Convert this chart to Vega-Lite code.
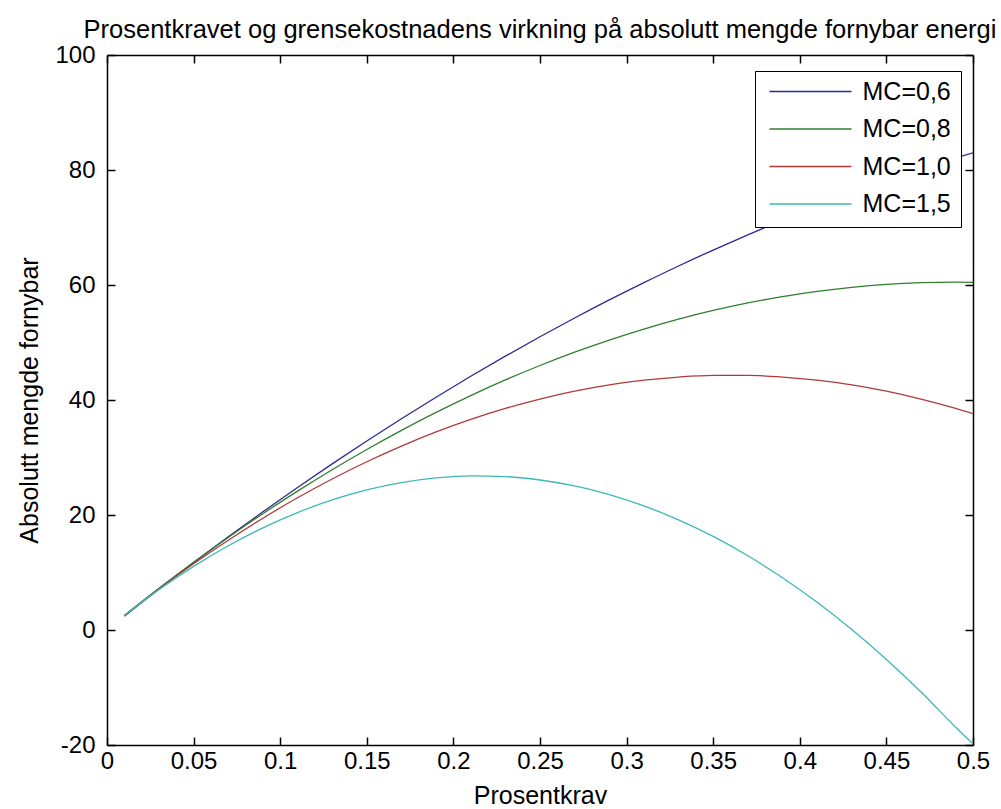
{
  "$schema": "https://vega.github.io/schema/vega-lite/v6.json",
  "width": 866,
  "height": 690,
  "autosize": {"type": "none"},
  "padding": {"left": 107, "top": 55, "right": 28, "bottom": 64},
  "background": "white",
  "config": {
    "view": {"stroke": null},
    "font": "Liberation Sans",
    "axis": {"labelFont": "Liberation Sans", "titleFont": "Liberation Sans", "labelColor": "black", "titleColor": "black", "domainColor": "black", "tickColor": "black", "domainWidth": 1.5, "tickWidth": 1.5, "grid": false}
  },
  "title": {"text": "Prosentkravet og grensekostnadens virkning på absolutt mengde fornybar energi", "fontSize": 25.5, "font": "Liberation Sans", "fontWeight": "normal", "color": "black", "anchor": "middle", "offset": 0},
  "data": {"values": [
    {"x":0.01,"y":2.40,"s":"MC=0,6"},{"x":0.03,"y":7.12,"s":"MC=0,6"},{"x":0.05,"y":11.72,"s":"MC=0,6"},{"x":0.07,"y":16.20,"s":"MC=0,6"},{"x":0.09,"y":20.55,"s":"MC=0,6"},{"x":0.11,"y":24.78,"s":"MC=0,6"},{"x":0.13,"y":28.89,"s":"MC=0,6"},{"x":0.15,"y":32.88,"s":"MC=0,6"},{"x":0.17,"y":36.75,"s":"MC=0,6"},{"x":0.19,"y":40.49,"s":"MC=0,6"},{"x":0.21,"y":44.12,"s":"MC=0,6"},{"x":0.23,"y":47.62,"s":"MC=0,6"},{"x":0.25,"y":51.00,"s":"MC=0,6"},{"x":0.27,"y":54.26,"s":"MC=0,6"},{"x":0.29,"y":57.40,"s":"MC=0,6"},{"x":0.31,"y":60.41,"s":"MC=0,6"},{"x":0.33,"y":63.31,"s":"MC=0,6"},{"x":0.35,"y":66.08,"s":"MC=0,6"},{"x":0.37,"y":68.73,"s":"MC=0,6"},{"x":0.39,"y":71.26,"s":"MC=0,6"},{"x":0.41,"y":73.67,"s":"MC=0,6"},{"x":0.43,"y":75.96,"s":"MC=0,6"},{"x":0.45,"y":78.12,"s":"MC=0,6"},{"x":0.47,"y":80.16,"s":"MC=0,6"},{"x":0.49,"y":82.09,"s":"MC=0,6"},{"x":0.50,"y":83.00,"s":"MC=0,6"},
    {"x":0.01,"y":2.51,"s":"MC=0,8"},{"x":0.03,"y":7.24,"s":"MC=0,8"},{"x":0.05,"y":11.77,"s":"MC=0,8"},{"x":0.07,"y":16.10,"s":"MC=0,8"},{"x":0.09,"y":20.23,"s":"MC=0,8"},{"x":0.11,"y":24.15,"s":"MC=0,8"},{"x":0.13,"y":27.88,"s":"MC=0,8"},{"x":0.15,"y":31.40,"s":"MC=0,8"},{"x":0.17,"y":34.73,"s":"MC=0,8"},{"x":0.19,"y":37.85,"s":"MC=0,8"},{"x":0.21,"y":40.77,"s":"MC=0,8"},{"x":0.23,"y":43.49,"s":"MC=0,8"},{"x":0.25,"y":46.00,"s":"MC=0,8"},{"x":0.27,"y":48.32,"s":"MC=0,8"},{"x":0.29,"y":50.43,"s":"MC=0,8"},{"x":0.31,"y":52.34,"s":"MC=0,8"},{"x":0.33,"y":54.06,"s":"MC=0,8"},{"x":0.35,"y":55.57,"s":"MC=0,8"},{"x":0.37,"y":56.88,"s":"MC=0,8"},{"x":0.39,"y":57.98,"s":"MC=0,8"},{"x":0.41,"y":58.89,"s":"MC=0,8"},{"x":0.43,"y":59.59,"s":"MC=0,8"},{"x":0.45,"y":60.10,"s":"MC=0,8"},{"x":0.47,"y":60.40,"s":"MC=0,8"},{"x":0.49,"y":60.50,"s":"MC=0,8"},{"x":0.50,"y":60.47,"s":"MC=0,8"},
    {"x":0.01,"y":2.53,"s":"MC=1,0"},{"x":0.03,"y":7.17,"s":"MC=1,0"},{"x":0.05,"y":11.53,"s":"MC=1,0"},{"x":0.07,"y":15.62,"s":"MC=1,0"},{"x":0.09,"y":19.44,"s":"MC=1,0"},{"x":0.11,"y":22.99,"s":"MC=1,0"},{"x":0.13,"y":26.26,"s":"MC=1,0"},{"x":0.15,"y":29.26,"s":"MC=1,0"},{"x":0.17,"y":31.99,"s":"MC=1,0"},{"x":0.19,"y":34.45,"s":"MC=1,0"},{"x":0.21,"y":36.63,"s":"MC=1,0"},{"x":0.23,"y":38.54,"s":"MC=1,0"},{"x":0.25,"y":40.17,"s":"MC=1,0"},{"x":0.27,"y":41.54,"s":"MC=1,0"},{"x":0.29,"y":42.63,"s":"MC=1,0"},{"x":0.31,"y":43.45,"s":"MC=1,0"},{"x":0.33,"y":43.99,"s":"MC=1,0"},{"x":0.35,"y":44.27,"s":"MC=1,0"},{"x":0.37,"y":44.27,"s":"MC=1,0"},{"x":0.39,"y":43.99,"s":"MC=1,0"},{"x":0.41,"y":43.45,"s":"MC=1,0"},{"x":0.43,"y":42.63,"s":"MC=1,0"},{"x":0.45,"y":41.54,"s":"MC=1,0"},{"x":0.47,"y":40.17,"s":"MC=1,0"},{"x":0.49,"y":38.54,"s":"MC=1,0"},{"x":0.50,"y":37.62,"s":"MC=1,0"},
    {"x":0.01,"y":2.51,"s":"MC=1,5"},{"x":0.03,"y":7.02,"s":"MC=1,5"},{"x":0.05,"y":11.06,"s":"MC=1,5"},{"x":0.07,"y":14.65,"s":"MC=1,5"},{"x":0.09,"y":17.77,"s":"MC=1,5"},{"x":0.11,"y":20.43,"s":"MC=1,5"},{"x":0.13,"y":22.62,"s":"MC=1,5"},{"x":0.15,"y":24.36,"s":"MC=1,5"},{"x":0.17,"y":25.63,"s":"MC=1,5"},{"x":0.19,"y":26.44,"s":"MC=1,5"},{"x":0.21,"y":26.79,"s":"MC=1,5"},{"x":0.23,"y":26.67,"s":"MC=1,5"},{"x":0.25,"y":26.09,"s":"MC=1,5"},{"x":0.27,"y":25.05,"s":"MC=1,5"},{"x":0.29,"y":23.55,"s":"MC=1,5"},{"x":0.31,"y":21.58,"s":"MC=1,5"},{"x":0.33,"y":19.16,"s":"MC=1,5"},{"x":0.35,"y":16.27,"s":"MC=1,5"},{"x":0.37,"y":12.91,"s":"MC=1,5"},{"x":0.39,"y":9.10,"s":"MC=1,5"},{"x":0.41,"y":4.82,"s":"MC=1,5"},{"x":0.43,"y":0.08,"s":"MC=1,5"},{"x":0.45,"y":-5.12,"s":"MC=1,5"},{"x":0.47,"y":-10.78,"s":"MC=1,5"},{"x":0.49,"y":-16.91,"s":"MC=1,5"},{"x":0.50,"y":-19.80,"s":"MC=1,5"}
  ]},
  "layer": [
    {
      "mark": {"type": "line", "strokeWidth": 1.3, "interpolate": "monotone", "clip": true},
      "encoding": {
        "x": {"field": "x", "type": "quantitative", "scale": {"domain": [0, 0.5], "nice": false, "zero": false},
              "axis": {"orient": "bottom", "values": [0,0.05,0.1,0.15,0.2,0.25,0.3,0.35,0.4,0.45,0.5], "format": "~g", "labelFontSize": 24, "labelPadding": 12, "tickSize": -8, "title": "Prosentkrav", "titleFontSize": 25, "titleFontWeight": "normal", "titlePadding": 10, "labelFlush": false, "labelOverlap": false}},
        "y": {"field": "y", "type": "quantitative", "scale": {"domain": [-20, 100], "nice": false, "zero": false},
              "axis": {"orient": "left", "values": [-20,0,20,40,60,80,100], "labelFontSize": 24, "labelPadding": 20, "tickSize": -8, "labelExpr": "replace(datum.label, '\u2212', '-')", "title": "Absolutt mengde fornybar", "titleFontSize": 25, "titleFontWeight": "normal", "titlePadding": 12, "labelFlush": false, "labelOverlap": false}},
        "color": {"field": "s", "type": "nominal",
                  "scale": {"domain": ["MC=0,6","MC=0,8","MC=1,0","MC=1,5"], "range": ["#2b2b8f","#2f7f2f","#b03a3a","#3cb8b8"]},
                  "legend": {"title": null, "orient": "none", "legendX": 648, "legendY": 16, "direction": "vertical", "symbolType": "stroke", "symbolSize": 6724, "symbolStrokeWidth": 1.5, "symbolOffset": 4, "clipHeight": 22, "rowPadding": 12.5, "padding": 9.5, "labelFontSize": 25, "labelFont": "Liberation Sans", "labelColor": "black", "labelOffset": 10, "strokeColor": "black", "fillColor": "white"}}
      }
    },
    {
      "mark": {"type": "line", "strokeOpacity": 0},
      "encoding": {
        "x": {"field": "x", "type": "quantitative", "axis": {"orient": "top", "values": [0,0.05,0.1,0.15,0.2,0.25,0.3,0.35,0.4,0.45,0.5], "labels": false, "tickSize": -8, "title": null}},
        "y": {"field": "y", "type": "quantitative", "axis": {"orient": "right", "values": [-20,0,20,40,60,80,100], "labels": false, "tickSize": -8, "title": null}},
        "detail": {"field": "s"}
      }
    }
  ],
  "resolve": {"axis": {"x": "independent", "y": "independent"}}
}
